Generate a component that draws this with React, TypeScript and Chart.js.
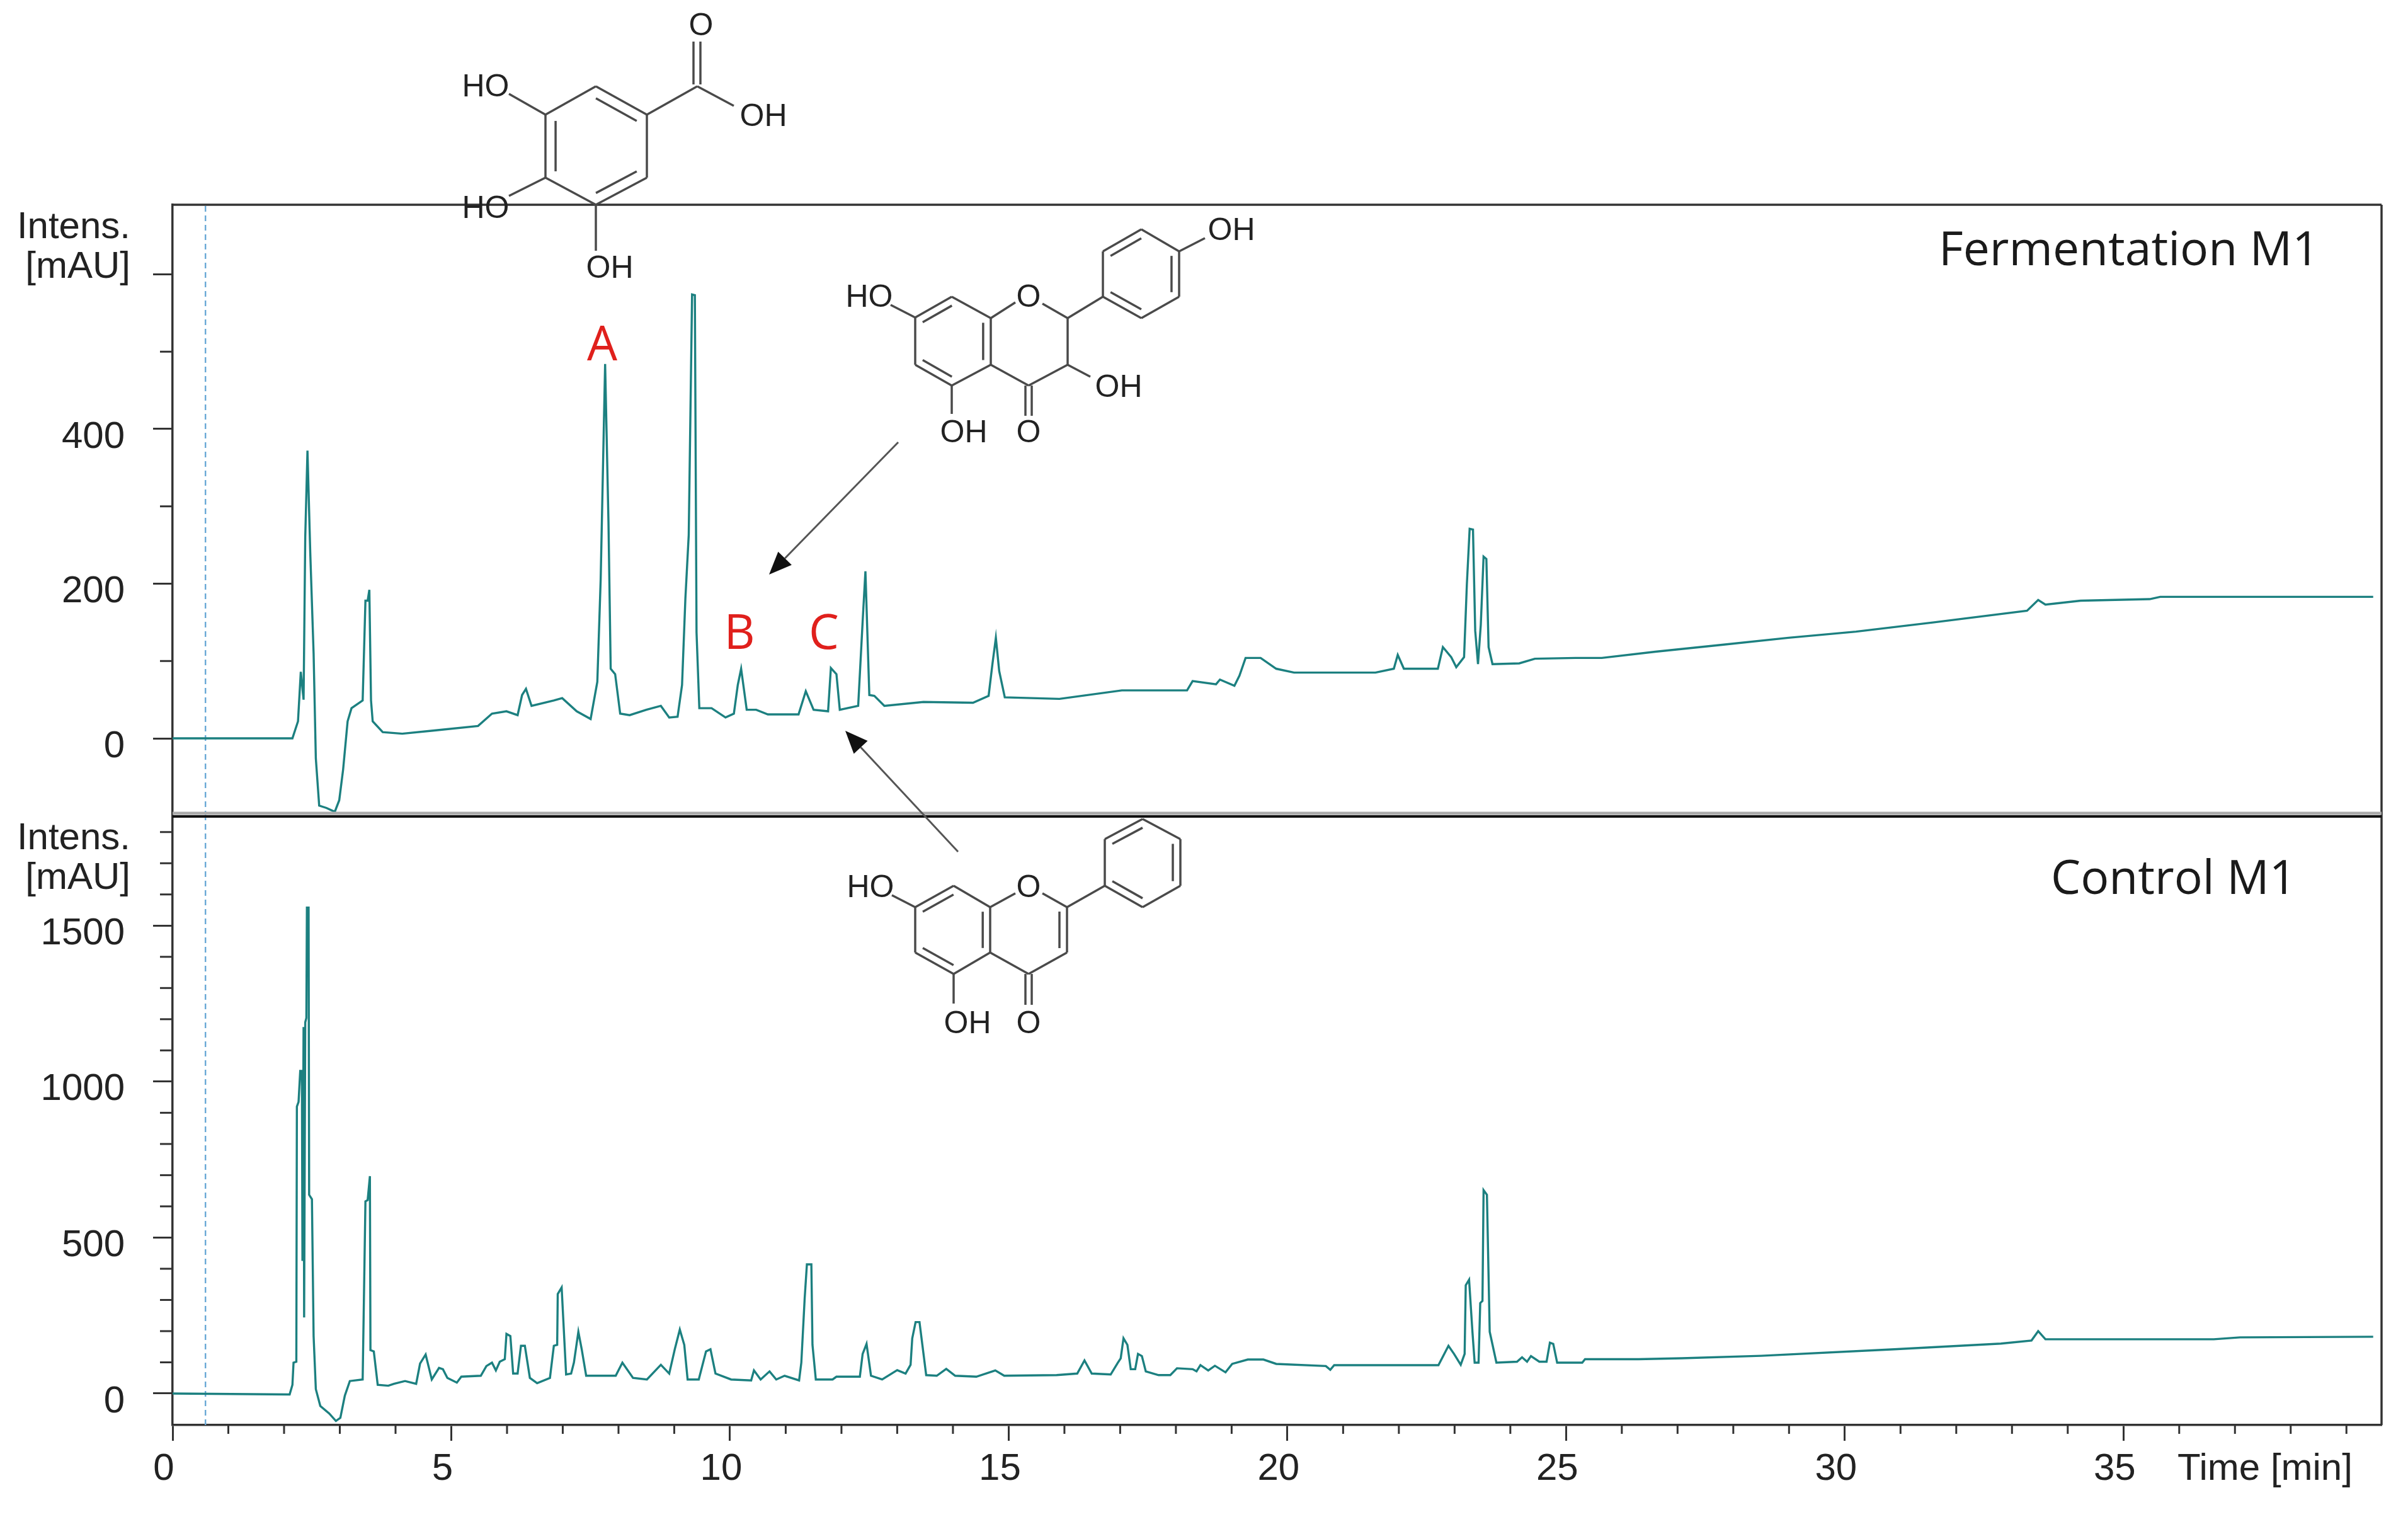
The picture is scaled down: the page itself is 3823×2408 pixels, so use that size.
import React, { useEffect, useRef } from "react";
import { Chart, registerables } from "chart.js";

Chart.register(...registerables);

const fermentationTime = [0, 2.15, 2.25, 2.3, 2.35, 2.38, 2.42, 2.47, 2.53, 2.57, 2.63, 2.76, 2.91, 2.99, 3.06, 3.14, 3.21, 3.41, 3.46, 3.5, 3.53, 3.56, 3.59, 3.77, 4.12, 4.67, 5.48, 5.73, 5.99, 6.19, 6.27, 6.34, 6.44, 6.84, 6.99, 7.25, 7.5, 7.62, 7.68, 7.76, 7.82, 7.86, 7.94, 8.03, 8.2, 8.5, 8.76, 8.91, 9.06, 9.14, 9.2, 9.26, 9.32, 9.37, 9.4, 9.45, 9.67, 9.92, 10.07, 10.14, 10.2, 10.3, 10.47, 10.68, 11.23, 11.36, 11.5, 11.76, 11.81, 11.91, 11.97, 12.3, 12.38, 12.43, 12.5, 12.59, 12.77, 13.47, 14.36, 14.64, 14.71, 14.77, 14.83, 14.93, 15.91, 17.03, 18.2, 18.3, 18.72, 18.79, 19.05, 19.14, 19.25, 19.52, 19.8, 20.12, 21.58, 21.91, 21.98, 22.09, 22.7, 22.79, 22.94, 23.03, 23.17, 23.22, 23.27, 23.33, 23.37, 23.42, 23.47, 23.52, 23.57, 23.61, 23.68, 24.16, 24.44, 25.17, 25.64, 26.6, 27.8, 28.99, 30.2, 31.6, 33.27, 33.47, 33.6, 34.23, 35.47, 35.66, 39.48];
const fermentationIntensity = [0, 0, 22, 86, 50, 260, 372, 240, 110, -26, -87, -90, -95, -80, -40, 22, 39, 49, 178, 178, 192, 49, 22, 8, 6, 10, 16, 32, 35, 30, 56, 64, 42, 49, 52, 35, 25, 73, 205, 484, 280, 90, 83, 32, 30, 37, 42, 27, 28, 69, 181, 263, 574, 573, 137, 39, 39, 27, 32, 69, 90, 37, 37, 31, 31, 61, 37, 35, 91, 83, 37, 42, 151, 216, 56, 55, 42, 47, 46, 55, 97, 130, 87, 53, 51, 62, 62, 74, 70, 76, 68, 81, 104, 104, 90, 85, 85, 90, 108, 90, 90, 118, 105, 92, 105, 199, 271, 270, 139, 96, 147, 235, 232, 118, 96, 97, 103, 104, 104, 112, 121, 130, 138, 150, 165, 179, 173, 178, 180, 183, 183];

const controlTime = [0, 2.1, 2.15, 2.17, 2.22, 2.23, 2.26, 2.29, 2.32, 2.33, 2.35, 2.36, 2.38, 2.4, 2.41, 2.44, 2.45, 2.5, 2.53, 2.57, 2.65, 2.81, 2.93, 3.01, 3.09, 3.18, 3.41, 3.46, 3.5, 3.54, 3.55, 3.61, 3.68, 3.87, 3.97, 4.17, 4.37, 4.44, 4.54, 4.65, 4.78, 4.85, 4.93, 5.1, 5.18, 5.53, 5.63, 5.73, 5.8, 5.87, 5.96, 5.99, 6.06, 6.11, 6.19, 6.25, 6.32, 6.41, 6.54, 6.77, 6.84, 6.9, 6.91, 6.98, 7.06, 7.15, 7.2, 7.28, 7.34, 7.42, 7.95, 8.07, 8.26, 8.51, 8.76, 8.91, 9.01, 9.1, 9.18, 9.24, 9.44, 9.57, 9.65, 9.74, 10.02, 10.38, 10.43, 10.55, 10.71, 10.83, 10.98, 11.24, 11.28, 11.34, 11.38, 11.46, 11.48, 11.54, 11.84, 11.91, 12.33, 12.38, 12.45, 12.53, 12.73, 13.0, 13.15, 13.24, 13.27, 13.33, 13.4, 13.52, 13.71, 13.88, 14.04, 14.42, 14.76, 14.92, 15.86, 16.23, 16.36, 16.49, 16.83, 16.96, 17.01, 17.06, 17.13, 17.19, 17.27, 17.32, 17.39, 17.46, 17.69, 17.9, 18.02, 18.3, 18.37, 18.44, 18.58, 18.7, 18.89, 19.01, 19.29, 19.57, 19.8, 20.69, 20.77, 20.84, 21.91, 22.71, 22.89, 22.99, 23.11, 23.18, 23.2, 23.26, 23.32, 23.36, 23.43, 23.46, 23.5, 23.52, 23.58, 23.63, 23.75, 24.12, 24.21, 24.3, 24.37, 24.52, 24.65, 24.71, 24.77, 24.84, 25.29, 25.34, 26.3, 27.08, 28.5, 30.89, 32.8, 33.35, 33.47, 33.6, 36.62, 37.09, 39.48];
const controlIntensity = [0, -3, 28, 99, 102, 920, 935, 1034, 1034, 425, 1175, 244, 1190, 1204, 1558, 1558, 637, 623, 184, 14, -40, -64, -88, -78, -7, 40, 45, 616, 620, 697, 139, 135, 28, 25, 31, 40, 31, 96, 125, 45, 82, 78, 50, 35, 54, 57, 88, 99, 74, 102, 110, 191, 184, 64, 64, 153, 153, 50, 33, 50, 153, 156, 319, 340, 61, 64, 99, 198, 142, 57, 57, 99, 50, 45, 92, 64, 142, 205, 156, 45, 45, 135, 142, 64, 45, 42, 74, 45, 71, 45, 57, 42, 99, 305, 414, 414, 156, 45, 45, 54, 54, 127, 159, 57, 45, 75, 64, 92, 177, 229, 229, 59, 57, 79, 57, 54, 74, 57, 59, 64, 106, 64, 61, 99, 113, 177, 156, 78, 78, 127, 120, 71, 59, 59, 81, 78, 71, 91, 74, 89, 68, 95, 109, 109, 95, 88, 76, 91, 91, 91, 153, 127, 92, 127, 347, 365, 198, 99, 99, 290, 297, 652, 637, 198, 99, 102, 116, 102, 120, 102, 102, 163, 159, 99, 99, 110, 110, 113, 121, 142, 160, 170, 200, 174, 174, 180, 182];

const timeTicks = Array.from({ length: 40 }, (_, i) => i);
const fermentationTicks = [0, 100, 200, 300, 400, 500, 600];
const fermentationMajor = [0, 200, 400, 600];
const fermentationLabels = [0, 200, 400];
const controlTicks = [0, 100, 200, 300, 400, 500, 600, 700, 800, 900, 1000, 1100, 1200, 1300, 1400, 1500, 1600, 1700, 1800];
const controlMajor = [0, 500, 1000, 1500];
const solventFrontTime = 0.59;

const TEAL = "#1c8080";
const DARK = "#333333";
const SANS = '"Liberation Sans", Arial, sans-serif';
const ROUND = '"Open Sans", sans-serif';

type P = [number, number];

function bond(c: CanvasRenderingContext2D, a: P, b: P) {
  c.beginPath();
  c.moveTo(a[0], a[1]);
  c.lineTo(b[0], b[1]);
  c.stroke();
}

// second stroke of a double bond, set toward the ring centre
function inner(c: CanvasRenderingContext2D, a: P, b: P, centre: P) {
  const k = 0.2;
  const ax = a[0] + (centre[0] - a[0]) * k;
  const ay = a[1] + (centre[1] - a[1]) * k;
  const bx = b[0] + (centre[0] - b[0]) * k;
  const by = b[1] + (centre[1] - b[1]) * k;
  bond(c, [ax, ay], [bx, by]);
}

function ring(c: CanvasRenderingContext2D, pts: P[], doubles: number[]) {
  const centre: P = [
    pts.reduce((s, p) => s + p[0], 0) / pts.length,
    pts.reduce((s, p) => s + p[1], 0) / pts.length,
  ];
  pts.forEach((p, i) => bond(c, p, pts[(i + 1) % pts.length]));
  doubles.forEach((i) => inner(c, pts[i], pts[(i + 1) % pts.length], centre));
}

function atom(c: CanvasRenderingContext2D, s: string, x: number, y: number) {
  c.fillText(s, x, y);
}

function drawMolecules(c: CanvasRenderingContext2D) {
  c.save();
  c.strokeStyle = "#4a4a4a";
  c.lineWidth = 3.5;
  c.fillStyle = "#222222";
  c.font = `50px ${SANS}`;
  c.textAlign = "center";
  c.textBaseline = "middle";

  // gallic acid
  ring(c, [[946, 137], [1027, 182], [1027, 282], [946, 325], [866, 282], [866, 182]], [0, 2, 4]);
  bond(c, [1027, 182], [1107, 137]);
  bond(c, [1101, 134], [1101, 66]);
  bond(c, [1112, 134], [1112, 66]);
  bond(c, [1107, 137], [1165, 168]);
  bond(c, [866, 182], [808, 149]);
  bond(c, [866, 282], [808, 311]);
  bond(c, [946, 325], [946, 398]);
  atom(c, "O", 1113, 42);
  atom(c, "OH", 1212, 186);
  atom(c, "HO", 771, 139);
  atom(c, "HO", 771, 332);
  atom(c, "OH", 968, 427);

  // flavonol
  ring(c, [[1511, 471], [1573, 505], [1573, 579], [1511, 612], [1453, 579], [1453, 504]], [1, 3, 5]);
  bond(c, [1573, 505], [1612, 480]);
  bond(c, [1655, 482], [1695, 505]);
  bond(c, [1695, 505], [1695, 579]);
  bond(c, [1695, 579], [1633, 612]);
  bond(c, [1633, 612], [1573, 579]);
  bond(c, [1628, 612], [1628, 660]);
  bond(c, [1638, 612], [1638, 660]);
  bond(c, [1511, 612], [1511, 657]);
  bond(c, [1453, 504], [1414, 484]);
  bond(c, [1695, 579], [1731, 598]);
  bond(c, [1695, 505], [1751, 471]);
  ring(c, [[1751, 471], [1751, 399], [1812, 364], [1872, 399], [1872, 471], [1812, 505]], [1, 3, 5]);
  bond(c, [1872, 399], [1913, 378]);
  atom(c, "O", 1633, 473);
  atom(c, "O", 1633, 688);
  atom(c, "OH", 1530, 688);
  atom(c, "HO", 1380, 473);
  atom(c, "OH", 1776, 616);
  atom(c, "OH", 1955, 367);

  // flavone
  ring(c, [[1514, 1406], [1572, 1440], [1572, 1512], [1514, 1546], [1453, 1512], [1453, 1440]], [1, 3, 5]);
  bond(c, [1572, 1440], [1612, 1418]);
  bond(c, [1655, 1418], [1694, 1440]);
  bond(c, [1694, 1440], [1694, 1512]);
  bond(c, [1682, 1447], [1682, 1505]);
  bond(c, [1694, 1512], [1633, 1546]);
  bond(c, [1633, 1546], [1572, 1512]);
  bond(c, [1628, 1546], [1628, 1595]);
  bond(c, [1638, 1546], [1638, 1595]);
  bond(c, [1514, 1546], [1514, 1593]);
  bond(c, [1453, 1440], [1416, 1421]);
  bond(c, [1694, 1440], [1754, 1406]);
  ring(c, [[1754, 1406], [1754, 1332], [1814, 1300], [1874, 1332], [1874, 1406], [1814, 1440]], [1, 3, 5]);
  atom(c, "O", 1633, 1410);
  atom(c, "O", 1633, 1626);
  atom(c, "OH", 1536, 1626);
  atom(c, "HO", 1382, 1410);
  c.restore();
}

function arrow(c: CanvasRenderingContext2D, from: P, tip: P) {
  const ang = Math.atan2(tip[1] - from[1], tip[0] - from[0]);
  const len = 36;
  const half = 15;
  const bx = tip[0] - Math.cos(ang) * len;
  const by = tip[1] - Math.sin(ang) * len;
  c.save();
  c.strokeStyle = "#555555";
  c.lineWidth = 3;
  bond(c, from, [bx, by]);
  c.fillStyle = "#111111";
  c.beginPath();
  c.moveTo(tip[0], tip[1]);
  c.lineTo(bx - Math.sin(ang) * half, by + Math.cos(ang) * half);
  c.lineTo(bx + Math.sin(ang) * half, by - Math.cos(ang) * half);
  c.closePath();
  c.fill();
  c.restore();
}

const overlay = {
  id: "overlay",
  afterDraw(chart: any) {
    const c: CanvasRenderingContext2D = chart.ctx;
    const { x, yTop, yBottom } = chart.scales;
    const area = chart.chartArea;

    c.save();
    // frame
    c.strokeStyle = DARK;
    c.lineWidth = 3.5;
    bond(c, [area.left, area.top], [area.right, area.top]);
    bond(c, [area.right, area.top], [area.right, area.bottom]);
    c.strokeStyle = "#aaaaaa";
    c.lineWidth = 5;
    bond(c, [area.left, yTop.bottom - 5], [area.right, yTop.bottom - 5]);
    c.strokeStyle = "#111111";
    c.lineWidth = 4;
    bond(c, [area.left, yTop.bottom], [area.right, yTop.bottom]);

    // short ticks
    c.strokeStyle = DARK;
    c.lineWidth = 3;
    fermentationTicks.filter((v) => !fermentationMajor.includes(v)).forEach((v) => {
      const py = yTop.getPixelForValue(v);
      bond(c, [area.left - 20, py], [area.left, py]);
    });
    controlTicks.filter((v) => !controlMajor.includes(v)).forEach((v) => {
      const py = yBottom.getPixelForValue(v);
      bond(c, [area.left - 20, py], [area.left, py]);
    });
    timeTicks.filter((v) => v % 5 !== 0).forEach((v) => {
      const px = x.getPixelForValue(v);
      bond(c, [px, area.bottom], [px, area.bottom + 14]);
    });

    // axis captions
    c.fillStyle = "#222222";
    c.font = `60px ${SANS}`;
    c.textBaseline = "middle";
    c.textAlign = "right";
    c.fillText("Intens.", 207, 361);
    c.fillText("[mAU]", 207, 424);
    c.fillText("Intens.", 207, 1331);
    c.fillText("[mAU]", 207, 1394);
    c.textAlign = "center";
    c.fillText("Time [min]", 3596, 2332);

    // panel titles
    c.fillStyle = "#1a1a1a";
    c.font = `75px ${ROUND}`;
    c.textAlign = "left";
    c.fillText("Fermentation M1", 3078, 400);
    c.fillText("Control M1", 3256, 1398);

    // peak letters
    c.fillStyle = "#e0201c";
    c.font = `76px ${ROUND}`;
    c.textAlign = "center";
    c.fillText("A", 956, 550);
    c.fillText("B", 1174, 1008);
    c.fillText("C", 1308, 1008);
    c.restore();

    drawMolecules(c);
    arrow(c, [1426, 702], [1221, 912]);
    arrow(c, [1521, 1352], [1342, 1160]);
  },
};

export default function App() {
  const ref = useRef<HTMLCanvasElement>(null);

  useEffect(() => {
    if (!ref.current) return;
    const xy = (t: number[], v: number[]) => t.map((x, i) => ({ x, y: v[i] }));
    const line = { borderColor: TEAL, borderWidth: 3.4, pointRadius: 0, tension: 0, fill: false };
    const dash = { borderColor: "#6aa9d6", borderWidth: 2.4, borderDash: [9, 6], pointRadius: 0 };

    const chart = new Chart(ref.current, {
      type: "line",
      data: {
        datasets: [
          { ...line, label: "Fermentation M1", yAxisID: "yTop", data: xy(fermentationTime, fermentationIntensity) },
          { ...line, label: "Control M1", yAxisID: "yBottom", data: xy(controlTime, controlIntensity) },
          { ...dash, label: "front top", yAxisID: "yTop", data: [{ x: solventFrontTime, y: -101 }, { x: solventFrontTime, y: 690 }] },
          { ...dash, label: "front bottom", yAxisID: "yBottom", data: [{ x: solventFrontTime, y: -101 }, { x: solventFrontTime, y: 1850 }] },
        ],
      },
      options: {
        responsive: false,
        animation: false,
        layout: { padding: { top: 325, right: 42, left: 0, bottom: 0 } },
        plugins: { legend: { display: false }, tooltip: { enabled: false } },
        scales: {
          x: {
            type: "linear",
            min: 0,
            max: 39.63,
            afterFit: (s: any) => { s.height = 146; },
            afterBuildTicks: (s: any) => { s.ticks = timeTicks.map((value) => ({ value })); },
            border: { color: DARK, width: 3.5 },
            grid: {
              drawOnChartArea: false,
              tickLength: 25,
              tickWidth: 3,
              tickColor: (ctx: any) => (ctx.tick && ctx.tick.value % 5 === 0 ? DARK : "rgba(0,0,0,0)"),
            },
            ticks: {
              autoSkip: false,
              maxRotation: 0,
              labelOffset: -14,
              padding: 9,
              color: "#222222",
              font: { family: SANS, size: 60 },
              callback: (v: any) => (v % 5 === 0 ? String(v) : ""),
            },
          },
          yBottom: {
            type: "linear",
            position: "left",
            stack: "panels",
            stackWeight: 966,
            min: -101,
            max: 1850,
            afterFit: (s: any) => { s.width = 274; },
            afterBuildTicks: (s: any) => { s.ticks = controlTicks.map((value) => ({ value })); },
            border: { color: DARK, width: 3.5 },
            grid: {
              drawOnChartArea: false,
              tickLength: 31,
              tickWidth: 3,
              tickColor: (ctx: any) => (ctx.tick && controlMajor.includes(ctx.tick.value) ? DARK : "rgba(0,0,0,0)"),
            },
            ticks: {
              autoSkip: false,
              labelOffset: 13,
              padding: 45,
              color: "#222222",
              font: { family: SANS, size: 60 },
              callback: (v: any) => (controlMajor.includes(v) ? String(v) : ""),
            },
          },
          yTop: {
            type: "linear",
            position: "left",
            stack: "panels",
            stackWeight: 971,
            min: -101,
            max: 690,
            afterFit: (s: any) => { s.width = 274; },
            afterBuildTicks: (s: any) => { s.ticks = fermentationTicks.map((value) => ({ value })); },
            border: { color: DARK, width: 3.5 },
            grid: {
              drawOnChartArea: false,
              tickLength: 31,
              tickWidth: 3,
              tickColor: (ctx: any) => (ctx.tick && fermentationMajor.includes(ctx.tick.value) ? DARK : "rgba(0,0,0,0)"),
            },
            ticks: {
              autoSkip: false,
              labelOffset: 13,
              padding: 45,
              color: "#222222",
              font: { family: SANS, size: 60 },
              callback: (v: any) => (fermentationLabels.includes(v) ? String(v) : ""),
            },
          },
        },
      } as any,
      plugins: [overlay as any],
    });
    return () => chart.destroy();
  }, []);

  return (
    <div style={{ position: "absolute", left: 0, top: 0, width: 3823, height: 2408, background: "#ffffff" }}>
      <canvas ref={ref} width={3823} height={2408} style={{ display: "block" }} />
    </div>
  );
}
